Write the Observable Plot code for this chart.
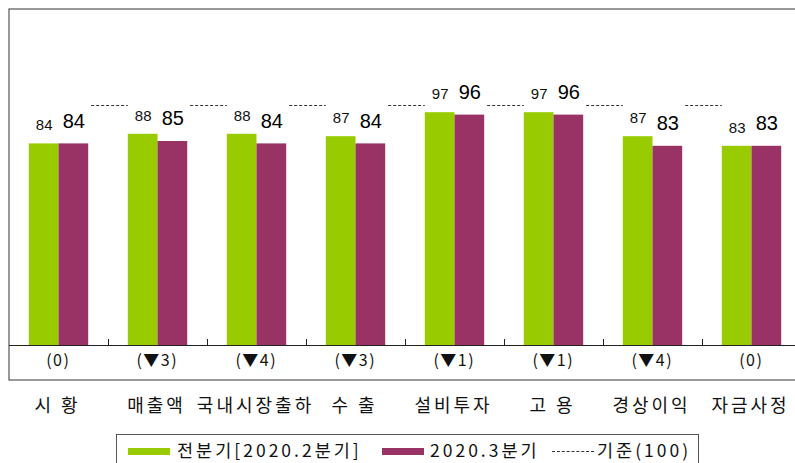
<!DOCTYPE html>
<html><head><meta charset="utf-8">
<script src="https://cdn.jsdelivr.net/npm/d3@7"></script>
<script src="https://cdn.jsdelivr.net/npm/@observablehq/plot@0.6"></script>
<style>
html,body{margin:0;padding:0;background:#fff;overflow:hidden;}
#wrap{position:relative;width:795px;height:463px;overflow:hidden;font-family:"Noto Sans CJK KR",sans-serif;}
#chart svg{overflow:hidden;display:block;}
#legend{position:absolute;left:116px;top:434px;width:583px;height:40px;border:1px solid #555;box-sizing:border-box;background:#fff;}
.sw{position:absolute;top:13px;height:7px;width:42px;}
.lt{position:absolute;top:3px;font-size:17.5px;letter-spacing:3px;line-height:24px;white-space:nowrap;color:#111;}
.dash{position:absolute;top:16px;width:42px;height:0;border-top:1px dashed #333;}
</style></head>
<body><div id="wrap"><div id="chart"></div><div id="legend"></div></div>
<script>
const categories = ["시 황","매출액","국내시장출하","수 출","설비투자","고 용","경상이익","자금사정"];
const prevQuarter = [84,88,88,87,97,97,87,83];
const currQuarter = [84,85,84,84,96,96,83,83];
const changeLabels = ["(0)","(▼3)","(▼4)","(▼3)","(▼1)","(▼1)","(▼4)","(0)"];
const seriesNames = ["전분기[2020.2분기]","2020.3분기"];
const referenceValue = 100;
const referenceName = "기준(100)";
const colors = ["#99CC00","#993366"];

const rows = categories.map((c,i)=>({i, cat:c, prev:prevQuarter[i], curr:currQuarter[i], chg:changeLabels[i]}));
const xDomain = [-0.5, categories.length - 0.5];
const yDomain = [-35/2.4, 140];
const gaps = d3.range(categories.length - 1);
const bounds = d3.range(categories.length - 1).map(i => i + 0.5);
const half = 0.3;

const chart = Plot.plot({
  width: 795, height: 425,
  marginTop: 9, marginBottom: 45, marginLeft: 9, marginRight: 0,
  style: {fontFamily: '"Noto Sans CJK KR", sans-serif', fontSize: "17px", color: "#111", background: "#fff"},
  x: {type: "linear", domain: xDomain, range: [9, 801]},
  y: {domain: yDomain, range: [380, 9], axis: null},
  marks: [
    Plot.rect([0], {x1: () => xDomain[0], x2: () => xDomain[1], y1: () => yDomain[0], y2: () => yDomain[1], fill: "none", stroke: "#555", strokeWidth: 1.2}),
    Plot.rect(rows, {x1: d => d.i - half, x2: d => d.i, y1: 0, y2: "prev", fill: colors[0]}),
    Plot.rect(rows, {x1: d => d.i, x2: d => d.i + half, y1: 0, y2: "curr", fill: colors[1]}),
    Plot.ruleY([0], {stroke: "#222", strokeWidth: 1}),
    Plot.ruleX(bounds, {x: d => d, y1: 0, y2: 6/2.4, stroke: "#222"}),
    Plot.ruleY(gaps, {y: () => referenceValue, x1: d => d + 0.33, x2: d => d + 0.7, stroke: "#333", strokeDasharray: "3,2", strokeWidth: 1}),
    Plot.text(rows, {x: d => d.i - half/2, y: "prev", text: d => String(d.prev), dy: -18.5, fontSize: 15, fontFamily: '"Liberation Sans", sans-serif', fill: "#111"}),
    Plot.text(rows, {x: d => d.i + half/2, y: "curr", text: d => String(d.curr), dy: -22.5, fontSize: 20, fontFamily: '"Liberation Sans", sans-serif', fill: "#000"}),
    Plot.text(rows, {x: "i", y: () => 0, text: "chg", dy: 15, dx: -0.75, fontSize: 16, fill: "#111", className: "chg"}),
    Plot.axisX({ticks: rows.map(d => d.i), tickFormat: i => categories[i], tickSize: 0, tickPadding: 19, fontSize: 18, dx: -1.5, label: null})
  ]
});
chart.querySelectorAll('g[aria-label="x-axis tick label"] text').forEach(t => t.style.letterSpacing = "3px");
chart.querySelectorAll('g.chg text').forEach(t => t.style.letterSpacing = "1.5px");
document.getElementById("chart").appendChild(chart);

const lg = document.getElementById("legend");
lg.innerHTML = `
  <div class="sw" style="left:11px;background:${colors[0]}"></div>
  <div class="lt" style="left:60px">${seriesNames[0]}</div>
  <div class="sw" style="left:265px;background:${colors[1]}"></div>
  <div class="lt" style="left:313px">${seriesNames[1]}</div>
  <div class="dash" style="left:435px"></div>
  <div class="lt" style="left:480px">${referenceName}</div>`;
</script>
</body></html>
